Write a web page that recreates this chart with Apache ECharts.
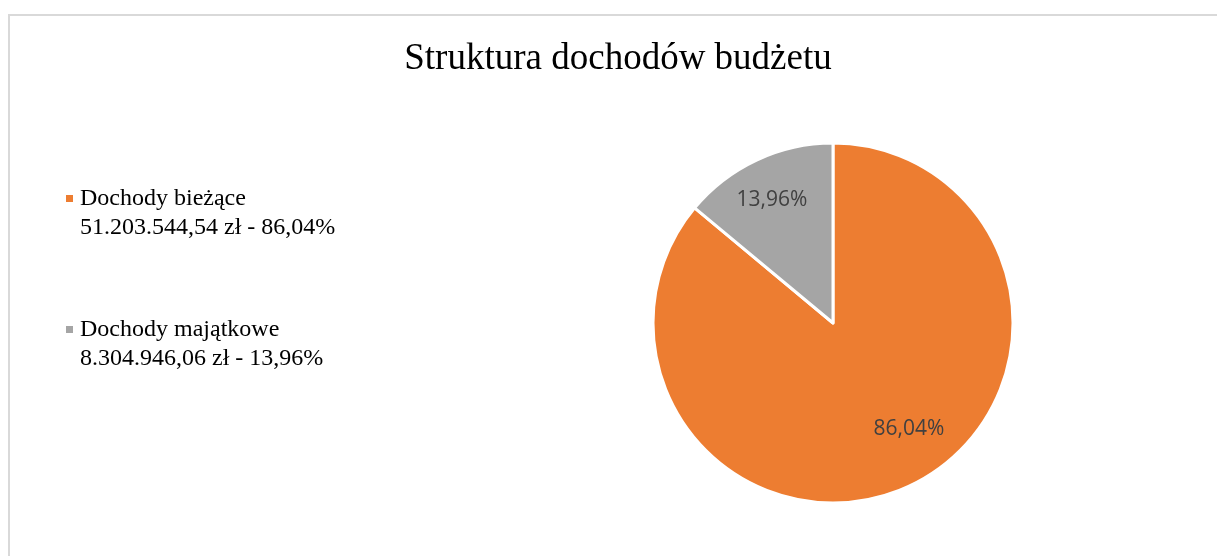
<!DOCTYPE html>
<html>
<head>
<meta charset="utf-8">
<script src="https://cdn.jsdelivr.net/npm/echarts@6/dist/echarts.min.js"></script>
<style>
  html, body { margin: 0; padding: 0; background: #fff; }
  #chart { width: 1217px; height: 556px; }
</style>
</head>
<body>
<div id="chart"></div>
<script>
var names = ['Dochody bieżące', 'Dochody majątkowe'];
var amounts = ['51.203.544,54 zł', '8.304.946,06 zł'];
var values = [51203544.54, 8304946.06];
var percents = ['86,04%', '13,96%'];
var colors = ['#ED7D31', '#A5A5A5'];

var myChart = echarts.init(document.getElementById('chart'));

var pieData = names.map(function (n, i) {
    return { name: n, value: values[i], itemStyle: { color: colors[i] } };
});

// legend markers drawn as rich-text boxes so they sit on the first line
var legendRich = {
    t: { fontFamily: 'Liberation Serif', fontSize: 24, lineHeight: 29, color: '#000' },
    gap: { width: 7, height: 7 },
    sp: { width: 14, height: 7 }
};
colors.forEach(function (c, i) {
    legendRich['m' + i] = { width: 7, height: 7, backgroundColor: c };
});

var option = {
    animation: false,
    title: {
        text: 'Struktura dochodów budżetu',
        left: 613,
        textAlign: 'center',
        top: 36,
        textStyle: {
            fontFamily: 'Liberation Serif',
            fontSize: 37,
            fontWeight: 'normal',
            color: '#000'
        }
    },
    graphic: [{
        type: 'rect',
        shape: { x: 9, y: 15, width: 1400, height: 800 },
        style: { fill: 'none', stroke: '#d9d9d9', lineWidth: 2 },
        silent: true
    }],
    legend: {
        orient: 'vertical',
        left: 55,
        top: 179,
        itemWidth: 0,
        itemHeight: 0,
        itemGap: 73,
        icon: 'rect',
        itemStyle: { opacity: 0 },
        data: names,
        formatter: function (name) {
            var i = names.indexOf(name);
            return '{m' + i + '|}{gap|}{t|' + name + '}\n{sp|}{t|' + amounts[i] + ' - ' + percents[i] + '}';
        },
        textStyle: {
            fontFamily: 'Liberation Serif',
            fontSize: 24,
            lineHeight: 29,
            color: '#000',
            rich: legendRich
        }
    },
    series: [
        {
            type: 'pie',
            center: [833, 323],
            radius: [0, 180],
            startAngle: 90,
            clockwise: true,
            label: { show: false },
            labelLine: { show: false },
            itemStyle: { borderColor: '#fff', borderWidth: 3 },
            emphasis: { disabled: true },
            data: pieData
        },
        {
            // transparent ring only used to place the percent labels
            type: 'pie',
            center: [833, 323],
            radius: [92, 180],
            startAngle: 90,
            clockwise: true,
            silent: true,
            itemStyle: { color: 'transparent', borderWidth: 0 },
            emphasis: { disabled: true },
            label: {
                show: true,
                position: 'inside',
                fontFamily: 'Open Sans',
                fontSize: 21,
                color: '#404040',
                formatter: function (p) { return percents[p.dataIndex]; }
            },
            labelLayout: function (p) {
                return p.dataIndex === 0 ? { dx: 17, dy: -20 } : { dx: -2, dy: 3 };
            },
            labelLine: { show: false },
            data: names.map(function (n, i) { return { name: n, value: values[i] }; })
        }
    ]
};

myChart.setOption(option);
</script>
</body>
</html>
